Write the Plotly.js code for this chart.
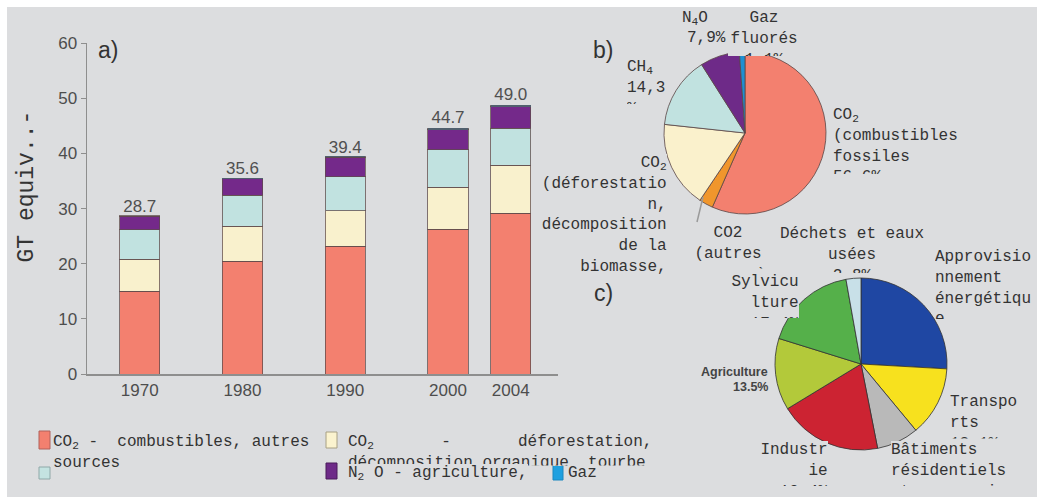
<!DOCTYPE html>
<html>
<head>
<meta charset="utf-8">
<script src="https://cdn.plot.ly/plotly-3.0.1.min.js"></script>
<style>html,body{margin:0;padding:0;background:#fff;}#chart{width:1037px;height:501px;}</style>
</head>
<body>
<div id="chart"></div>
<script>
// ---------------- data ----------------
const years = ['1970', '1980', '1990', '2000', '2004'];
const slots = [0, 1, 2, 3, 3.61];            // uneven spacing of the original time axis
const co2Fossil = [15.0, 20.5, 23.2, 26.3, 29.2];
const co2Forest = [5.8, 6.3, 6.4, 7.6, 8.7];
const ch4 = [5.4, 5.6, 6.2, 6.8, 6.7];
const n2o = [2.4, 3.0, 3.5, 3.6, 3.9];
const fgas = [0.1, 0.1, 0.2, 0.3, 0.3];
const totals = [28.7, 35.6, 39.4, 44.7, 49.0];
const yTicks = [0, 10, 20, 30, 40, 50, 60];

const gasLabels = ['CO2 (combustibles fossiles)', 'CO2 (autres)', 'CO2 (déforestation)', 'CH4', 'N2O', 'Gaz fluorés'];
const gasShares = [56.6, 2.8, 17.3, 14.3, 7.9, 1.1];

const sectorLabels = ['Approvisionnement énergétique', 'Transports', 'Bâtiments résidentiels et commerciaux',
  'Industrie', 'Agriculture', 'Sylviculture', 'Déchets et eaux usées'];
const sectorShares = [25.9, 13.1, 7.9, 19.4, 13.5, 17.4, 2.8];

// ---------------- layout helpers ----------------
const W = 1037, H = 501;
const px = v => v / W;
const py = v => 1 - v / H;
const BG = 'rgb(220,221,223)';
const MONO = 'Liberation Mono, Courier New, monospace';
const SANS = 'Liberation Sans, Arial, Helvetica, sans-serif';
const TXT = '#333333';
const fr = v => v.toFixed(1).replace('.', ',') + '%';

function box(text, x, top, xanchor, align, w, h, size) {
  const a = {
    text: text, xref: 'paper', yref: 'paper', x: px(x), y: py(top),
    xanchor: xanchor, yanchor: 'top', align: align, valign: 'top',
    showarrow: false, borderpad: 0, borderwidth: 0, bgcolor: BG,
    font: {family: MONO, size: size || 16, color: TXT}
  };
  if (w) a.width = w;
  if (h) a.height = h;
  return a;
}
function sans(text, x, cy, size) {
  return {text: text, xref: 'paper', yref: 'paper', x: px(x), y: py(cy), xanchor: 'right', yanchor: 'middle',
    showarrow: false, font: {family: SANS, size: size, weight: 'bold', color: '#444444'}};
}

const barLine = {color: 'rgba(95,75,75,0.75)', width: 1};
function barTrace(name, vals, color) {
  return {type: 'bar', name: name, x: slots, y: vals, width: 0.39,
    marker: {color: color, line: barLine}, xaxis: 'x', yaxis: 'y', hoverinfo: 'skip'};
}

const traces = [
  barTrace('CO2 combustibles', co2Fossil, '#f3806f'),
  barTrace('CO2 déforestation', co2Forest, '#f9f1cd'),
  barTrace('CH4', ch4, '#c1e2e0'),
  barTrace('N2O', n2o, '#74298a'),
  barTrace('Gaz fluorés', fgas, '#2aa0d8'),
  {type: 'scatter', mode: 'text', x: slots, y: totals, text: totals.map(v => v.toFixed(1)),
    textposition: 'top center', cliponaxis: false, hoverinfo: 'skip',
    textfont: {family: SANS, size: 17, color: '#505050'}, xaxis: 'x', yaxis: 'y'},
  {type: 'pie', labels: gasLabels, values: gasShares, sort: false, direction: 'clockwise', rotation: 0,
    textinfo: 'none', hoverinfo: 'skip',
    marker: {colors: ['#f3806f', '#f0962c', '#faf1cc', '#c1e2e0', '#6e2a88', '#1e90d2'],
      line: {color: 'rgba(90,70,70,0.8)', width: 1}},
    domain: {x: [px(664), px(826)], y: [py(214), py(52)]}},
  {type: 'pie', labels: sectorLabels, values: sectorShares, sort: false, direction: 'clockwise', rotation: 0,
    textinfo: 'none', hoverinfo: 'skip',
    marker: {colors: ['#1f47a3', '#f7e11e', '#b9b9b9', '#cc2332', '#b3c93a', '#55b04a', '#c8e0e8'],
      line: {color: 'rgba(50,50,50,0.8)', width: 1}},
    domain: {x: [px(775), px(947)], y: [py(450), py(278)]}}
];

const annotations = [
  // panel letters
  {text: 'a)', xref: 'paper', yref: 'paper', x: px(96), y: py(50), xanchor: 'left', yanchor: 'middle',
    showarrow: false, font: {family: SANS, size: 23, color: '#333'}},
  {text: 'b)', xref: 'paper', yref: 'paper', x: px(591), y: py(50), xanchor: 'left', yanchor: 'middle',
    showarrow: false, font: {family: SANS, size: 23, color: '#333'}},
  {text: 'c)', xref: 'paper', yref: 'paper', x: px(592), y: py(293), xanchor: 'left', yanchor: 'middle',
    showarrow: false, font: {family: SANS, size: 23, color: '#333'}},
  // y axis title
  {text: 'GT equiv..-', xref: 'paper', yref: 'paper', x: px(27), y: py(186.5), xanchor: 'center', yanchor: 'middle',
    textangle: -90, showarrow: false, font: {family: MONO, size: 23, color: TXT}},
  // pie b labels
  box('N<sub>4</sub>O', 682, 9, 'left', 'left'),
  box(fr(gasShares[4]), 687, 29, 'left', 'left'),
  box('Gaz<br>fluorés<br>' + fr(gasShares[5]), 764, 9, 'center', 'center', 72, 47),
  box('CH<sub>4</sub><br>' + fr(gasShares[3]).replace('%', '<br>%'), 627, 57.5, 'left', 'left', 42, 46),
  box('CO<sub>2</sub><br>(combustibles<br>fossiles<br>' + fr(gasShares[0]), 833, 106, 'left', 'left', 130, 68),
  box('CO<sub>2</sub><br>(déforestatio<br>n,<br>décomposition<br>de la<br>biomasse,', 667, 153.5, 'right', 'right', 130, 124),
  box('CO2<br>(autres<br>sources)', 728, 224.5, 'center', 'center', 80, 44.5),
  // pie c labels
  box('Déchets et eaux<br>usées<br>' + fr(sectorShares[6]), 852, 225, 'center', 'center', 146, 48),
  box('Approvisio<br>nnement<br>énergétiqu<br>e<br>' + fr(sectorShares[0]), 935, 248.3, 'left', 'left', 98, 71),
  box('Sylvicu<br>lture<br>' + fr(sectorShares[5]), 799, 272.7, 'right', 'right', 70, 45),
  box('Transpo<br>rts<br>' + fr(sectorShares[1]), 950, 392.7, 'left', 'left', 72, 45.5),
  box('Industr<br>ie<br>' + fr(sectorShares[3]), 828, 441, 'right', 'right', 70, 45),
  box('Bâtiments<br>résidentiels<br>et commerciaux', 891, 441, 'left', 'left', 140, 45),
  sans('Agriculture', 770, 372, 12.5),
  sans(sectorShares[4].toFixed(1) + '%', 770, 387, 12.5),
  // legend texts
  box('CO<sub>2</sub> -  combustibles, autres<br>sources', 53, 432.7, 'left', 'left'),
  box('CO<sub>2</sub>       -       déforestation,<br>décomposition organique, tourbe', 348, 432.7, 'left', 'left', 312, 32.5),
  box('N<sub>2</sub> O - agriculture,', 348, 464.3, 'left', 'left'),
  box('Gaz', 568, 464.3, 'left', 'left')
];

function rect(x0, y0, x1, y1, fill, line, layer) {
  return {type: 'rect', xref: 'paper', yref: 'paper', x0: px(x0), x1: px(x1), y0: py(y1), y1: py(y0),
    fillcolor: fill, line: {color: line || fill, width: line ? 1 : 0}, layer: layer || 'above'};
}

const shapes = [
  rect(7, 7, W, 497, BG, null, 'below'),
  rect(39, 431, 50, 449, '#f3806f', '#b0605a'),
  rect(326, 432, 337, 448, '#fbf3cf', '#a8a084'),
  rect(39, 467, 50, 479, '#c4e3e1', '#8fa8a8'),
  rect(326, 463, 337, 479, '#6e2a88', '#4a1a5a'),
  rect(553, 463, 563, 480, '#1ea0e0', '#1a88c0'),
  {type: 'line', xref: 'paper', yref: 'paper', x0: px(703), y0: py(197), x1: px(697), y1: py(222),
    line: {color: '#9a9a9a', width: 1.5}}
];

const layout = {
  width: W, height: H,
  margin: {l: 0, r: 0, t: 0, b: 0},
  paper_bgcolor: '#ffffff',
  plot_bgcolor: 'rgba(0,0,0,0)',
  showlegend: false,
  barmode: 'stack',
  font: {family: SANS, color: '#4d4d4d'},
  xaxis: {domain: [px(87), px(558)], range: [-0.513, 4.07], tickvals: slots, ticktext: years,
    showline: true, linecolor: '#8e8e8e', linewidth: 1.5, ticks: '', showgrid: false, zeroline: false,
    tickfont: {family: SANS, size: 17, color: '#4d4d4d'}, fixedrange: true},
  yaxis: {domain: [py(374), py(43.3)], range: [0, 60], tickvals: yTicks,
    showline: true, linecolor: '#8e8e8e', linewidth: 1.5, ticks: 'outside', ticklen: 5, tickcolor: '#8e8e8e',
    showgrid: false, zeroline: false, tickfont: {family: SANS, size: 17, color: '#4d4d4d'}, fixedrange: true},
  annotations: annotations,
  shapes: shapes
};

Plotly.newPlot('chart', traces, layout, {displayModeBar: false, staticPlot: true});
</script>
</body>
</html>
